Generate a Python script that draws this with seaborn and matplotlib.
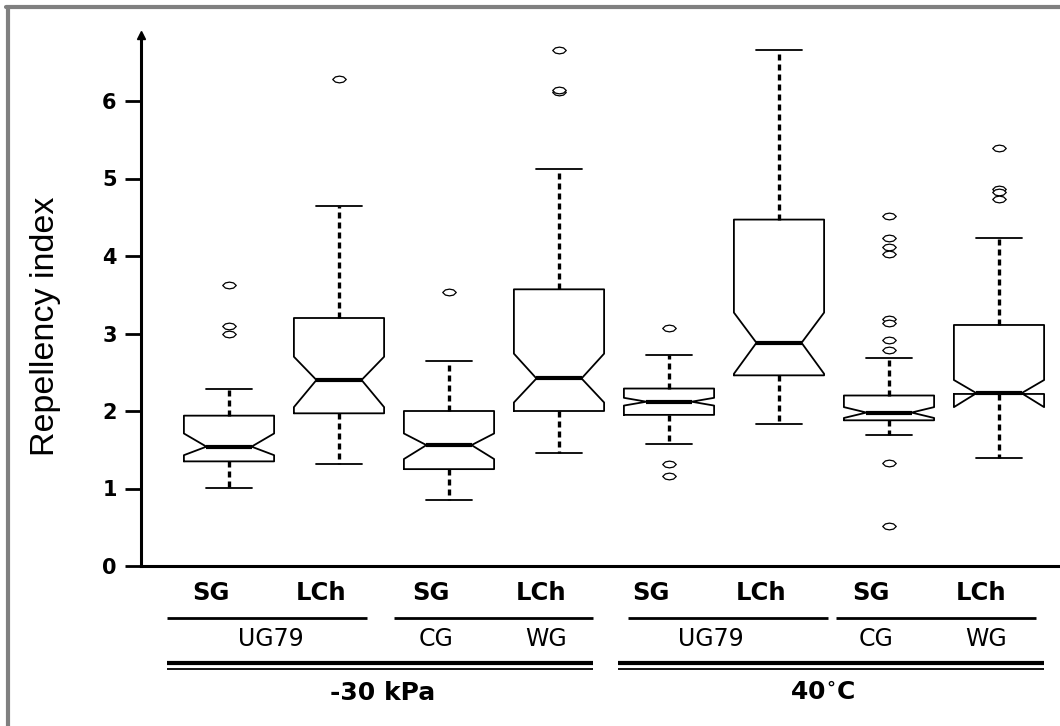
import numpy as np
import pandas as pd
import matplotlib
matplotlib.use("Agg")
import matplotlib.pyplot as plt
from matplotlib.path import Path
from matplotlib.lines import Line2D
from matplotlib import transforms
import seaborn as sns

# ---------------- data ----------------
group_labels = ["SG", "LCh", "SG", "LCh", "SG", "LCh", "SG", "LCh"]
cultivar_labels = ["UG79", "CG", "WG", "UG79", "CG", "WG"]
treatment_labels = ["-30 kPa", "40$^{\\circ}$C"]

whislo = [1.01, 1.31, 0.85, 1.46, 1.57, 1.83, 1.69, 1.39]
q1 = [1.35, 1.97, 1.25, 2.00, 1.95, 2.46, 1.88, 2.22]
cilo = [1.43, 2.05, 1.38, 2.11, 2.07, 2.48, 1.91, 2.05]
med = [1.54, 2.40, 1.56, 2.42, 2.12, 2.88, 1.98, 2.23]
cihi = [1.71, 2.70, 1.71, 2.74, 2.17, 3.27, 2.05, 2.40]
q3 = [1.94, 3.20, 2.00, 3.57, 2.29, 4.47, 2.20, 3.11]
whishi = [2.29, 4.64, 2.64, 5.12, 2.72, 6.66, 2.68, 4.23]

outliers = [
    [2.99, 3.10, 3.63],
    [6.29],
    [3.54],
    [6.11, 6.14, 6.66],
    [3.07, 1.32, 1.16],
    [],
    [4.51, 4.23, 4.12, 4.02, 3.19, 3.13, 2.91, 2.79, 1.33, 0.52],
    [5.40, 4.86, 4.83, 4.74],
]

# ---------------- style ----------------
sns.set_theme(style="white")
plt.rcParams["font.family"] = ["DejaVu Sans"]
plt.rcParams["mathtext.default"] = "bf"

W, H = 1060, 726
fig = plt.figure(figsize=(W / 100, H / 100), dpi=100)
fig.patch.set_facecolor("white")


def fx(px):
    return px / W


def fy(py):
    return 1 - py / H


ax = fig.add_axes([fx(141), fy(566), 1 - fx(141), fy(35) - fy(566)])
ax.set_facecolor("white")

positions = np.arange(len(group_labels))
stats = []
for i in range(len(group_labels)):
    stats.append(dict(med=med[i], q1=q1[i], q3=q3[i], whislo=whislo[i],
                      whishi=whishi[i], cilo=cilo[i], cihi=cihi[i], fliers=[]))

ax.bxp(stats, positions=positions, widths=0.82, capwidths=0.41, shownotches=True,
       showfliers=False, patch_artist=False,
       boxprops=dict(color="black", linewidth=1.3),
       medianprops=dict(color="black", linewidth=3.0, solid_capstyle="butt"),
       whiskerprops=dict(color="black", linewidth=2.4, linestyle=(0, (1.8, 1.2))),
       capprops=dict(color="black", linewidth=1.3))

# outliers
rows = [(positions[i], v) for i, vals in enumerate(outliers) for v in vals]
df_out = pd.DataFrame(rows, columns=["pos", "value"])
lemon = Path([(-1, 0), (-0.6, 0.38), (0, 0.5), (0.6, 0.38), (1, 0), (0.6, -0.38),
              (0, -0.5), (-0.6, -0.38), (-1, 0)], closed=True)
sns.scatterplot(data=df_out, x="pos", y="value", marker=lemon, s=95,
                facecolor="white", edgecolor="black", linewidth=0.9,
                ax=ax, zorder=5, legend=False)

# axes limits / spines
ymax = (566 - 35) / 77.5
ax.set_xlim(-(229 - 141) / 110, 7 + (1060 - 999) / 110)
ax.set_ylim(0, ymax)
ax.set_xlabel("")
ax.set_ylabel("")
for s in ["top", "right"]:
    ax.spines[s].set_visible(False)
for s in ["left", "bottom"]:
    ax.spines[s].set_color("black")
    ax.spines[s].set_linewidth(2.2)
ax.set_xticks([])
ax.set_yticks(range(7))
ax.set_yticklabels([str(t) for t in range(7)], fontsize=15, fontweight="bold")
ax.tick_params(axis="y", direction="out", length=11.5, width=2.0, pad=6,
               colors="black", left=True)
ax.grid(False)
# arrow head on y axis
ax.plot([0], [1], marker="^", markersize=6, color="black", transform=ax.transAxes,
        clip_on=False, zorder=6)

fig.text(fx(46), fy(326), "Repellency index", rotation=90, ha="center",
         va="center", fontsize=24.5, color="black",
         family=["Liberation Sans", "DejaVu Sans"])

# grouped x labels
bt = transforms.blended_transform_factory(ax.transData, fig.transFigure)


def dx(px):
    return (px - 229) / 110


for i, lab in enumerate(group_labels):
    ax.text(positions[i] - 0.16, fy(593), lab, transform=bt, ha="center",
            va="center", fontsize=17.5, fontweight="bold", color="black")

cult_centers = [0.5, 2.0, 3.0, 4.5, 6.0, 7.0]
for c, lab in zip(cult_centers, cultivar_labels):
    ax.text(c - 0.12, fy(639), lab, transform=bt, ha="center", va="center",
            fontsize=17, color="black")

for c, lab in zip([1.5, 5.5], treatment_labels):
    ax.text(c - 0.1, fy(693), lab, transform=bt, ha="center", va="center",
            fontsize=18, fontweight="bold", color="black")

# separator lines
for a, b in [(167, 367), (394, 593), (628, 828), (836, 1036)]:
    ax.add_line(Line2D([dx(a), dx(b)], [fy(618), fy(618)], transform=bt,
                       color="black", linewidth=2.0, clip_on=False,
                       solid_capstyle="butt"))
for a, b in [(167, 593), (618, 1044)]:
    ax.add_line(Line2D([dx(a), dx(b)], [fy(663), fy(663)], transform=bt,
                       color="black", linewidth=3.0, clip_on=False,
                       solid_capstyle="butt"))
    ax.add_line(Line2D([dx(a), dx(b)], [fy(668.5), fy(668.5)], transform=bt,
                       color="black", linewidth=1.3, clip_on=False,
                       solid_capstyle="butt"))

# grey frame (top and left)
fig.add_artist(Line2D([fx(8), fx(8)], [0, fy(7)], color="#808080", linewidth=3.0,
                      transform=fig.transFigure))
fig.add_artist(Line2D([fx(6), 1], [fy(7), fy(7)], color="#808080", linewidth=3.0,
                      transform=fig.transFigure))

fig.savefig("out.png", dpi=100, facecolor="white")
